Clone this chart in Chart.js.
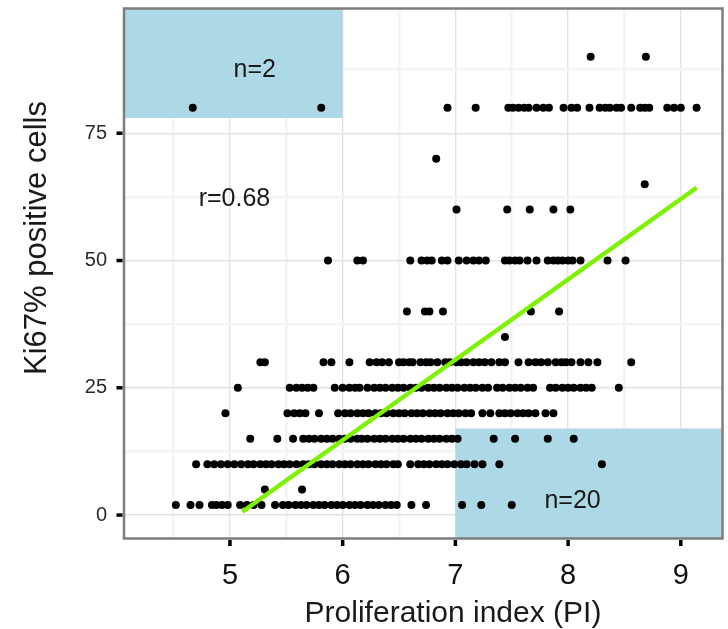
<!DOCTYPE html>
<html lang="en">
<head>
<meta charset="UTF-8">
<title>Ki67 vs proliferation index</title>
<script src="https://cdn.jsdelivr.net/npm/chart.js"></script>
<style>
  html, body { margin: 0; padding: 0; background: #fff; }
  #wrap { width: 728px; height: 629px; }
</style>
</head>
<body>
<div id="wrap"><canvas id="chart" width="728" height="629"></canvas></div>
<script>
// Ki67 % levels (y) and the PI values (x) of the patients at each level
const ki67Levels = [2, 5, 10, 15, 20, 25, 30, 35, 40, 50, 60, 65, 70, 80, 90];
const pi2 = [4.52, 4.65, 4.73, 4.84, 4.88, 4.93, 4.98, 5.09, 5.15, 5.21, 5.28, 5.40, 5.47, 5.52, 5.58, 5.63, 5.68, 5.74, 5.79, 5.84, 5.90, 5.95, 6.00, 6.06, 6.11, 6.16, 6.22, 6.27, 6.32, 6.38, 6.43, 6.48, 6.61, 6.74, 7.06, 7.23, 7.50];
const pi5 = [5.31, 5.64];
const pi10 = [4.70, 4.80, 4.86, 4.92, 4.98, 5.04, 5.10, 5.16, 5.21, 5.27, 5.32, 5.37, 5.43, 5.48, 5.53, 5.59, 5.65, 5.70, 5.75, 5.81, 5.86, 5.91, 5.97, 6.02, 6.07, 6.13, 6.18, 6.23, 6.29, 6.34, 6.39, 6.45, 6.49, 6.60, 6.67, 6.72, 6.77, 6.83, 6.88, 6.93, 6.99, 7.05, 7.10, 7.17, 7.24, 7.39, 8.30];
const pi15 = [5.18, 5.42, 5.56, 5.65, 5.70, 5.75, 5.81, 5.86, 5.91, 5.97, 6.02, 6.07, 6.13, 6.17, 6.22, 6.28, 6.33, 6.38, 6.44, 6.49, 6.54, 6.60, 6.65, 6.70, 6.76, 6.81, 6.86, 6.92, 6.97, 7.02, 7.34, 7.53, 7.82, 8.05];
const pi20 = [4.96, 5.51, 5.57, 5.62, 5.67, 5.79, 5.96, 6.02, 6.07, 6.13, 6.18, 6.23, 6.29, 6.34, 6.39, 6.45, 6.50, 6.55, 6.61, 6.66, 6.71, 6.77, 6.82, 6.87, 6.93, 6.98, 7.03, 7.09, 7.14, 7.24, 7.31, 7.39, 7.44, 7.49, 7.55, 7.60, 7.65, 7.71, 7.80, 7.87];
const pi25 = [5.07, 5.53, 5.59, 5.64, 5.69, 5.74, 5.93, 6.00, 6.06, 6.11, 6.15, 6.22, 6.28, 6.33, 6.38, 6.44, 6.49, 6.54, 6.60, 6.65, 6.70, 6.76, 6.81, 6.86, 6.92, 6.97, 7.02, 7.08, 7.13, 7.18, 7.24, 7.29, 7.37, 7.42, 7.48, 7.53, 7.58, 7.64, 7.69, 7.84, 7.89, 7.95, 8.00, 8.05, 8.11, 8.16, 8.21, 8.45];
const pi30 = [5.27, 5.31, 5.83, 5.90, 6.06, 6.24, 6.30, 6.35, 6.41, 6.50, 6.54, 6.59, 6.62, 6.69, 6.74, 6.78, 6.84, 6.91, 6.95, 7.01, 7.05, 7.10, 7.16, 7.21, 7.26, 7.32, 7.39, 7.44, 7.56, 7.65, 7.71, 7.76, 7.82, 7.89, 7.94, 7.98, 8.03, 8.11, 8.18, 8.26, 8.56];
const pi35 = [7.44];
const pi40 = [6.57, 6.73, 6.77, 6.89, 7.67, 7.92];
const pi50 = [5.87, 6.13, 6.18, 6.60, 6.70, 6.75, 6.79, 6.88, 6.93, 7.03, 7.10, 7.16, 7.21, 7.27, 7.44, 7.48, 7.53, 7.57, 7.64, 7.72, 7.82, 7.87, 7.91, 7.95, 8.00, 8.04, 8.11, 8.35, 8.51];
const pi60 = [7.01, 7.46, 7.66, 7.87, 8.02];
const pi65 = [8.68];
const pi70 = [6.83];
const pi80 = [4.67, 5.81, 6.93, 7.18, 7.47, 7.51, 7.56, 7.61, 7.65, 7.72, 7.78, 7.83, 7.96, 8.03, 8.08, 8.19, 8.28, 8.33, 8.37, 8.43, 8.47, 8.56, 8.64, 8.68, 8.72, 8.88, 8.94, 9.00, 9.14];
const pi90 = [8.20, 8.69];
const piByLevel = [pi2, pi5, pi10, pi15, pi20, pi25, pi30, pi35, pi40, pi50, pi60, pi65, pi70, pi80, pi90];

// linear fit, drawn between these two ends
const fitX = [5.11, 9.14];
const fitY = [0.65, 64.3];

// axis breaks
const xMajor = [5, 6, 7, 8, 9];
const xMinor = [4.5, 5.5, 6.5, 7.5, 8.5];
const yMajor = [0, 25, 50, 75];
const yMinor = [12.5, 37.5, 62.5, 87.5];

// shaded corners (null = runs to the panel edge) and their counts
const boxes = [
  { x0: null, x1: 6, y0: 78, y1: null, label: 'n=2', lx: 5.22, ly: 87.4 },
  { x0: 7, x1: null, y0: null, y1: 17, label: 'n=20', lx: 8.04, ly: 2.7 }
];
const corrText = { text: 'r=0.68', x: 5.04, y: 62.1 };

const FONT = "'Liberation Sans', Arial, sans-serif";

let points = [];
ki67Levels.forEach(function(lv, i) {
    piByLevel[i].forEach(function(v) { points.push({ x: v, y: lv }); });
});

const panelPlugin = {
    id: 'panel',
    beforeDatasetsDraw(chart) {
        const ctx = chart.ctx, a = chart.chartArea;
        const xs = chart.scales.x, ys = chart.scales.y;
        ctx.save();
        ctx.fillStyle = '#add8e6';
        boxes.forEach(function(b) {
            let l = b.x0 === null ? a.left : xs.getPixelForValue(b.x0);
            let r = b.x1 === null ? a.right : xs.getPixelForValue(b.x1);
            let t = b.y1 === null ? a.top : ys.getPixelForValue(b.y1);
            let bt = b.y0 === null ? a.bottom : ys.getPixelForValue(b.y0);
            ctx.fillRect(l, t, r - l, bt - t);
        });
        ctx.restore();
    },
    afterDatasetsDraw(chart) {
        const ctx = chart.ctx, a = chart.chartArea;
        const xs = chart.scales.x, ys = chart.scales.y;
        ctx.save();
        ctx.fillStyle = '#1a1a1a';
        ctx.font = '25px ' + FONT;
        ctx.textAlign = 'center';
        ctx.textBaseline = 'middle';
        boxes.forEach(function(b) {
            ctx.fillText(b.label, xs.getPixelForValue(b.lx), ys.getPixelForValue(b.ly));
        });
        ctx.fillText(corrText.text, xs.getPixelForValue(corrText.x), ys.getPixelForValue(corrText.y));

        // panel border
        ctx.strokeStyle = '#7d7d7d';
        ctx.lineWidth = 2.5;
        ctx.strokeRect(a.left, a.top, a.right - a.left, a.bottom - a.top);

        // tick marks
        ctx.fillStyle = '#000';
        yMajor.forEach(function(v) {
            ctx.fillRect(a.left - 7.5, ys.getPixelForValue(v) - 1.75, 6, 3.5);
        });
        xMajor.forEach(function(v) {
            ctx.fillRect(xs.getPixelForValue(v) - 1.75, a.bottom + 1.5, 3.5, 6);
        });

        // axis titles
        ctx.fillStyle = '#1a1a1a';
        ctx.font = '30px ' + FONT;
        ctx.textBaseline = 'alphabetic';
        ctx.fillText('Proliferation index (PI)', 453, 622);
        ctx.font = '31px ' + FONT;
        ctx.translate(46, 238);
        ctx.rotate(-Math.PI / 2);
        ctx.fillText('Ki67% positive cells', 0, 0);
        ctx.restore();
    }
};

new Chart(document.getElementById('chart'), {
    type: 'scatter',
    data: {
        datasets: [
            {
                data: fitX.map(function(v, i) { return { x: v, y: fitY[i] }; }),
                showLine: true,
                borderColor: '#7df200',
                borderWidth: 4.5,
                pointRadius: 0,
                order: 0
            },
            {
                data: points,
                backgroundColor: '#000',
                borderWidth: 0,
                pointRadius: 4,
                order: 1
            }
        ]
    },
    options: {
        responsive: false,
        animation: false,
        devicePixelRatio: 1,
        layout: { padding: { top: 8.5, right: 5.5, left: 0, bottom: 0 } },
        plugins: { legend: { display: false }, tooltip: { enabled: false } },
        scales: {
            x: {
                type: 'linear',
                min: 4.06,
                max: 9.37,
                afterBuildTicks: function(s) {
                    s.ticks = xMinor.concat(xMajor).sort(function(a, b) { return a - b; }).map(function(v) { return { value: v }; });
                },
                afterFit: function(s) {
                    s.height = 90.5;
                    s.paddingLeft = 0; s.paddingRight = 0;
                },
                border: { display: false },
                grid: {
                    drawTicks: false,
                    color: function(c) { return xMajor.includes(c.tick.value) ? '#e3e3e3' : '#f4f4f4'; },
                    lineWidth: function(c) { return xMajor.includes(c.tick.value) ? 1.4 : 2.6; }
                },
                ticks: {
                    autoSkip: false,
                    maxRotation: 0,
                    padding: 20,
                    color: '#111',
                    font: { family: FONT, size: 29 },
                    callback: function(v) { return xMajor.includes(v) ? String(v) : ''; }
                }
            },
            y: {
                type: 'linear',
                min: -4.6,
                max: 99.5,
                afterBuildTicks: function(s) {
                    s.ticks = yMinor.concat(yMajor).sort(function(a, b) { return a - b; }).map(function(v) { return { value: v }; });
                },
                afterFit: function(s) {
                    s.width = 124;
                    s.paddingTop = 0; s.paddingBottom = 0;
                },
                border: { display: false },
                grid: {
                    drawTicks: false,
                    color: function(c) { return yMajor.includes(c.tick.value) ? '#e3e3e3' : '#f4f4f4'; },
                    lineWidth: function(c) { return yMajor.includes(c.tick.value) ? 1.4 : 2.6; }
                },
                ticks: {
                    autoSkip: false,
                    padding: 17,
                    color: '#2a2a2a',
                    font: { family: FONT, size: 20 },
                    callback: function(v) { return yMajor.includes(v) ? String(v) : ''; }
                }
            }
        }
    },
    plugins: [panelPlugin]
});
</script>
</body>
</html>
